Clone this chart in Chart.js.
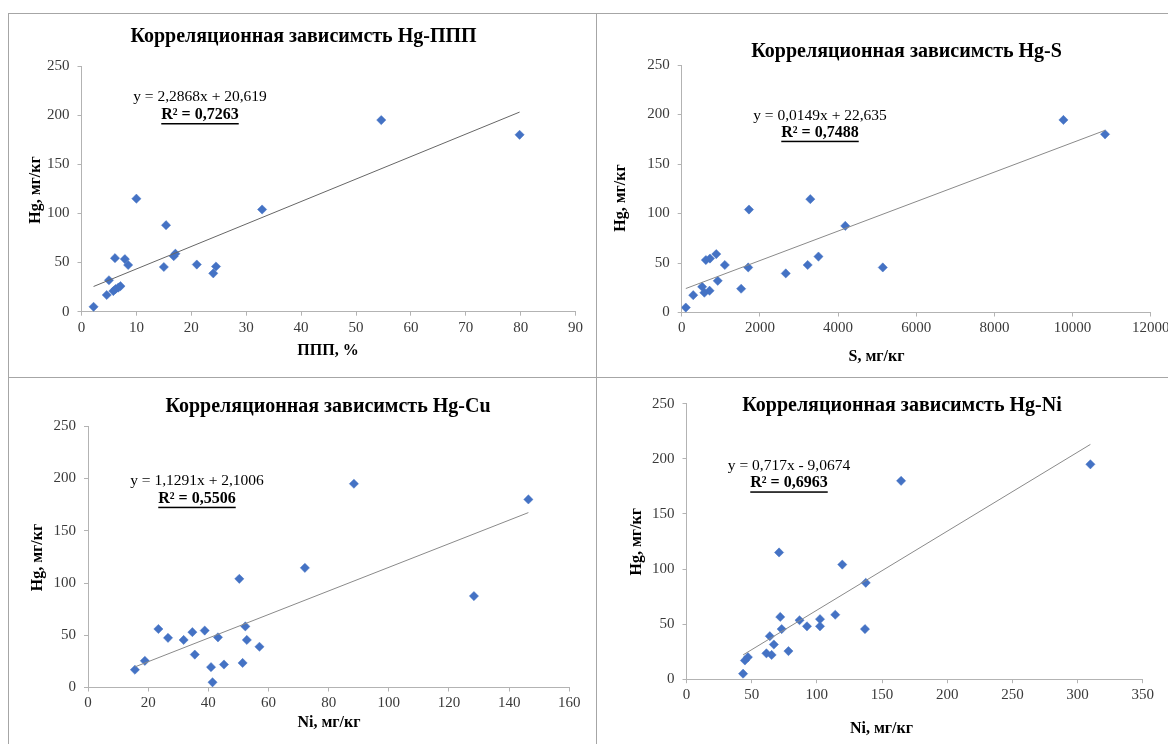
<!DOCTYPE html>
<html>
<head>
<meta charset="utf-8">
<script src="https://cdn.jsdelivr.net/npm/chart.js@4.4.1/dist/chart.umd.min.js"></script>
<style>
  html, body { margin: 0; padding: 0; background: #fff; }
  #page { position: relative; width: 1168px; height: 744px; overflow: hidden; background: #fff; }
  #page canvas { position: absolute; left: 0; top: 0; }
  .rule { position: absolute; background: #a6a6a6; }
</style>
</head>
<body>
<div id="page">
  <div class="rule" style="left:8px;top:13px;width:1160px;height:1px"></div>
  <div class="rule" style="left:8px;top:13px;width:1px;height:731px"></div>
  <div class="rule" style="left:596px;top:13px;width:1px;height:731px"></div>
  <div class="rule" style="left:8px;top:377px;width:1160px;height:1px"></div>
  <canvas id="cPPP" width="1168" height="744"></canvas>
  <canvas id="cS" width="1168" height="744"></canvas>
  <canvas id="cCu" width="1168" height="744"></canvas>
  <canvas id="cNi" width="1168" height="744"></canvas>
</div>
<script>
// ---- Hg vs ППП (%) ----
const pppX  = [2.2, 4.6, 5.0, 5.8, 6.1, 6.2, 6.7, 7.1, 7.9, 8.5, 10.0, 15.0, 15.4, 16.8, 17.1, 21.0, 24.0, 24.5, 32.9, 54.6, 79.8];
const pppHg = [5, 17, 32, 21, 54.5, 23, 24.5, 26, 53.5, 47.5, 115, 45.5, 88, 56.5, 59, 48, 39, 46, 104, 195, 180];

// ---- Hg vs S (мг/кг) ----
const sX  = [105, 295, 523, 580, 713, 618, 723, 884, 922, 1103, 1521, 1702, 1721, 2662, 3223, 3290, 3499, 4184, 5144, 9765, 10830];
const sHg = [5, 17.5, 26, 20, 22, 53, 54.5, 59, 32, 48, 24, 45.5, 104, 39.5, 48, 114.5, 56.5, 87.5, 45.5, 194.5, 180];

// ---- Hg vs Cu ----
const cuX  = [15.6, 18.9, 23.4, 26.6, 31.8, 34.7, 35.5, 38.8, 40.9, 41.4, 43.2, 45.2, 50.3, 51.4, 52.3, 52.8, 57.0, 72.1, 88.4, 128.3, 146.4];
const cuHg = [17, 25.5, 56, 47.5, 45.5, 53, 31.5, 54.5, 19.5, 5, 48, 22, 104, 23.5, 58.5, 45.5, 39, 114.5, 195, 87.5, 180];

// ---- Hg vs Ni ----
const niX  = [43.4, 44.8, 47.1, 61.3, 63.9, 65.3, 67.0, 71.0, 71.9, 73.0, 78.2, 86.7, 92.4, 102.4, 102.4, 114.1, 119.5, 136.9, 137.5, 164.6, 309.8];
const niHg = [5, 17, 20, 23.5, 39, 22, 31.5, 115, 56.5, 45.5, 25.5, 53.5, 48, 54.5, 48, 58.5, 104, 45.5, 87.5, 180, 195];

// linear trend coefficients [slope, intercept] and R²
const pppFit = [2.2868, 20.619];  const pppR2 = '0,7263';
const sFit   = [0.0149, 22.635];  const sR2   = '0,7488';
const cuFit  = [1.1291, 2.1006];  const cuR2  = '0,5506';
const niFit  = [0.717, -9.0674];  const niR2  = '0,6963';

// axis ranges [min, max, step]
const hgAxis  = [0, 250, 50];
const pppAxis = [0, 90, 10];
const sAxis   = [0, 12000, 2000];
const cuAxis  = [0, 160, 20];
const niAxis  = [0, 350, 50];

const SERIF = "'Liberation Serif', 'Times New Roman', serif";
const W = 1168, H = 744;
const Y_AXIS_W = 40, X_AXIS_H = 30;

function fmtEq(fit) {
  const a = String(fit[0]).replace('.', ',');
  const b = Math.abs(fit[1]).toString().replace('.', ',');
  return 'y = ' + a + 'x ' + (fit[1] < 0 ? '- ' : '+ ') + b;
}

// draws chart title, axis titles and the trend-line equation
const annotations = {
  id: 'annotations',
  afterDraw(chart, args, o) {
    const ctx = chart.ctx;
    ctx.save();
    ctx.textAlign = 'center';
    ctx.textBaseline = 'middle';
    ctx.fillStyle = '#000';

    ctx.font = 'bold 20px ' + SERIF;
    ctx.fillText(o.title, o.titlePos[0], o.titlePos[1]);

    ctx.font = '15.5px ' + SERIF;
    ctx.fillText(o.eq, o.eqPos[0], o.eqPos[1]);

    ctx.font = 'bold 16px ' + SERIF;
    const r2 = 'R² = ' + o.r2;
    ctx.fillText(r2, o.eqPos[0], o.eqPos[1] + o.r2Gap);
    const w = ctx.measureText(r2).width;
    ctx.fillRect(o.eqPos[0] - w / 2, o.eqPos[1] + o.r2Gap + 8, w, 1.5);

    ctx.font = 'bold 16px ' + SERIF;
    ctx.fillText(o.xTitle, o.xTitlePos[0], o.xTitlePos[1]);

    ctx.translate(o.yTitlePos[0], o.yTitlePos[1]);
    ctx.rotate(-Math.PI / 2);
    ctx.fillText(o.yTitle, 0, 0);
    ctx.restore();
  }
};

function makePanel(id, xs, ys, fit, r2, xAxis, area, text) {
  const pts = xs.map((x, i) => ({ x: x, y: ys[i] }));
  const xMin = Math.min(...xs), xMax = Math.max(...xs);
  const trend = [xMin, xMax].map(x => ({ x: x, y: fit[0] * x + fit[1] }));
  const axisColor = '#b3b3b3';
  const tickFont = { family: SERIF, size: 15 };
  const plain = v => String(v);

  new Chart(document.getElementById(id), {
    type: 'scatter',
    data: {
      datasets: [
        {
          data: pts,
          pointStyle: 'rectRot',
          pointRadius: 4.6,
          pointBackgroundColor: '#4472C4',
          pointBorderColor: '#4472C4',
          pointBorderWidth: 0.5,
          order: 1
        },
        {
          type: 'line',
          data: trend,
          borderColor: text.lineColor,
          borderWidth: 1,
          pointRadius: 0,
          fill: false,
          order: 0
        }
      ]
    },
    options: {
      responsive: false,
      animation: false,
      devicePixelRatio: 1,
      layout: {
        autoPadding: false,
        padding: {
          left: area.left - Y_AXIS_W,
          top: area.top,
          right: W - area.right,
          bottom: H - area.bottom - X_AXIS_H
        }
      },
      plugins: {
        legend: { display: false },
        tooltip: { enabled: false },
        annotations: Object.assign({ eq: fmtEq(fit), r2: r2 }, text)
      },
      scales: {
        x: {
          type: 'linear',
          min: xAxis[0], max: xAxis[1],
          ticks: { stepSize: xAxis[2], font: tickFont, color: '#3a3a3a', padding: 3, maxRotation: 0, autoSkip: false, callback: plain },
          grid: { drawOnChartArea: false, drawTicks: true, tickLength: 4, color: axisColor },
          border: { display: true, color: axisColor, width: 1 },
          afterFit(s) { s.height = X_AXIS_H; s.paddingLeft = 0; s.paddingRight = 0; }
        },
        y: {
          type: 'linear',
          min: hgAxis[0], max: hgAxis[1],
          ticks: { stepSize: hgAxis[2], font: tickFont, color: '#3a3a3a', padding: 8, callback: plain },
          grid: { drawOnChartArea: false, drawTicks: true, tickLength: 4, color: axisColor },
          border: { display: true, color: axisColor, width: 1 },
          afterFit(s) { s.width = Y_AXIS_W; s.paddingTop = 0; s.paddingBottom = 0; }
        }
      }
    },
    plugins: [annotations]
  });
}

makePanel('cPPP', pppX, pppHg, pppFit, pppR2, pppAxis,
  { left: 81.5, right: 575.6, top: 66, bottom: 311.7 },
  { title: 'Корреляционная зависимсть Hg-ППП', titlePos: [303.5, 36.7],
    eqPos: [200, 97], r2Gap: 18,
    xTitle: 'ППП, %', xTitlePos: [328, 350.7],
    yTitle: 'Hg, мг/кг', yTitlePos: [36, 190], lineColor: '#666666' });

makePanel('cS', sX, sHg, sFit, sR2, sAxis,
  { left: 681.7, right: 1150.8, top: 65, bottom: 312.5 },
  { title: 'Корреляционная зависимсть Hg-S', titlePos: [906.6, 51.7],
    eqPos: [820, 115.7], r2Gap: 17,
    xTitle: 'S, мг/кг', xTitlePos: [876.5, 357],
    yTitle: 'Hg, мг/кг', yTitlePos: [621, 198], lineColor: '#8a8a8a' });

makePanel('cCu', cuX, cuHg, cuFit, cuR2, cuAxis,
  { left: 88, right: 569.3, top: 426.3, bottom: 687.5 },
  { title: 'Корреляционная зависимсть Hg-Cu', titlePos: [328, 406.7],
    eqPos: [197, 481], r2Gap: 17.7,
    xTitle: 'Ni, мг/кг', xTitlePos: [329, 723.3],
    yTitle: 'Hg, мг/кг', yTitlePos: [38, 557.5], lineColor: '#8a8a8a' });

makePanel('cNi', niX, niHg, niFit, niR2, niAxis,
  { left: 686.5, right: 1142.8, top: 403.7, bottom: 679.2 },
  { title: 'Корреляционная зависимсть Hg-Ni', titlePos: [902, 406],
    eqPos: [789, 465.7], r2Gap: 17.6,
    xTitle: 'Ni, мг/кг', xTitlePos: [881.5, 729.3],
    yTitle: 'Hg, мг/кг', yTitlePos: [637, 541.7], lineColor: '#8a8a8a' });
</script>
</body>
</html>
